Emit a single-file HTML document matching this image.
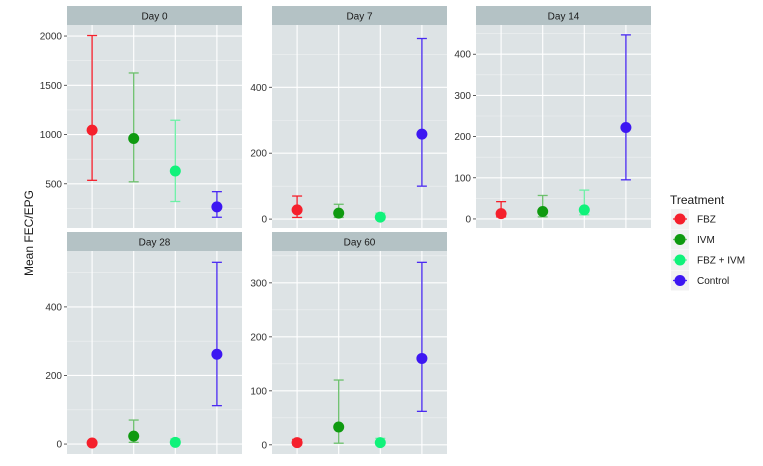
<!DOCTYPE html>
<html><head><meta charset="utf-8"><style>
body{margin:0;background:#fff;font-family:"Liberation Sans",Arial,sans-serif}
svg text{font-family:"Liberation Sans",Arial,sans-serif}
</style></head><body>
<svg id="c" width="763" height="461" viewBox="0 0 763 461"></svg>
<script>
const categories=["FBZ","IVM","FBZ + IVM","Control"];
const colors=["#f5202c","#0f9a10","#10f27a","#3d17f2"];
const barColors=["#f5202c","#6cc06c","#6cf0a6","#4a2af2"];
const panelTitles=["Day 0","Day 7","Day 14","Day 28","Day 60"];
const meanDay0=[1045,960,630,265],loDay0=[535,520,320,160],hiDay0=[2005,1625,1145,420];
const meanDay7=[28,18,6,258],loDay7=[5,5,0,100],hiDay7=[70,45,18,548];
const meanDay14=[13,18,22,222],loDay14=[5,5,10,95],hiDay14=[42,57,70,447];
const meanDay28=[3,23,5,262],loDay28=[0,5,0,112],hiDay28=[8,70,15,530];
const meanDay60=[4,33,4,160],loDay60=[0,3,0,62],hiDay60=[10,120,12,338];
const ticks0=[500,1000,1500,2000],ticks7=[0,200,400],ticks14=[0,100,200,300,400],ticks28=[0,200,400],ticks60=[0,100,200,300];
const panels=[
 {x:67,top:6,mean:meanDay0,lo:loDay0,hi:hiDay0,ticks:ticks0,dmin:51,dmax:2112},
 {x:272,top:6,mean:meanDay7,lo:loDay7,hi:hiDay7,ticks:ticks7,dmin:-27,dmax:589},
 {x:476,top:6,mean:meanDay14,lo:loDay14,hi:hiDay14,ticks:ticks14,dmin:-22,dmax:471},
 {x:67,top:232,mean:meanDay28,lo:loDay28,hi:hiDay28,ticks:ticks28,dmin:-29,dmax:563},
 {x:272,top:232,mean:meanDay60,lo:loDay60,hi:hiDay60,ticks:ticks60,dmin:-17,dmax:359}
];
const NS="http://www.w3.org/2000/svg",svg=document.getElementById('c');
function mk(t,a,p){const e=document.createElementNS(NS,t);for(const k in a)e.setAttribute(k,a[k]);(p||svg).appendChild(e);return e;}
const W=175,SH=19,PH=203;
panels.forEach((p,i)=>{
 const g=mk('g',{});
 
 
 const py=p.top+SH;
 const y=v=>py+PH-(v-p.dmin)/(p.dmax-p.dmin)*PH;
 const xs=k=>p.x+W/2+(k-1.5)*41.6;
 const strip=mk('rect',{x:p.x,y:p.top,width:W,height:SH,fill:'#b4c2c5'},g);
 
 const st=mk('text',{x:p.x+W/2,y:p.top+13.5,'text-anchor':'middle','font-size':'10',fill:'#1a1a1a'},g);st.textContent=panelTitles[i];
 
 mk('rect',{x:p.x,y:py,width:W,height:PH,fill:'#dde3e5'},g);
 const step=p.ticks[1]-p.ticks[0];
 for(let v=p.ticks[0]-step/2;v<=p.dmax;v+=step){if(v>p.dmin)mk('line',{x1:p.x,x2:p.x+W,y1:y(v),y2:y(v),stroke:'#eef1f2','stroke-width':0.6},g);}
 p.ticks.forEach(v=>{
  mk('line',{x1:p.x,x2:p.x+W,y1:y(v),y2:y(v),stroke:'#fff','stroke-width':1.1},g);
  mk('line',{x1:p.x-3,x2:p.x,y1:y(v),y2:y(v),stroke:'#333','stroke-width':0.8},g);
  const t=mk('text',{x:p.x-5,y:y(v)+3.5,'text-anchor':'end','font-size':'10',fill:'#333'},g);t.textContent=v;
  
 });
 categories.forEach((c,k)=>mk('line',{x1:xs(k),x2:xs(k),y1:py,y2:py+PH,stroke:'#fff','stroke-width':1.1},g));
 categories.forEach((c,k)=>{
  const x=xs(k),c2=barColors[k];
  const eb=mk('g',{},g);
  
  mk('line',{x1:x,x2:x,y1:y(p.lo[k]),y2:y(p.hi[k]),stroke:c2,'stroke-width':1.3},eb);
  mk('line',{x1:x-5,x2:x+5,y1:y(p.lo[k]),y2:y(p.lo[k]),stroke:c2,'stroke-width':1.3},eb);
  mk('line',{x1:x-5,x2:x+5,y1:y(p.hi[k]),y2:y(p.hi[k]),stroke:c2,'stroke-width':1.3},eb);
  const pt=mk('circle',{cx:x,cy:y(p.mean[k]),r:5.5,fill:colors[k]},g);
  
 });
});
const yt=mk('text',{x:33,y:233,'text-anchor':'middle','font-size':'12',fill:'#1a1a1a',transform:'rotate(-90 33 233)'});yt.textContent='Mean FEC/EPG';

const lg=mk('g',{});
const lt=mk('text',{x:670,y:204,'font-size':'12',fill:'#1a1a1a'},lg);lt.textContent='Treatment';
categories.forEach((c,k)=>{
 const yy=219+k*20.5;
 const e=mk('g',{},lg);
 mk('rect',{x:671,y:yy-10,width:18,height:20,fill:'#f2f2f2'},e);
 mk('line',{x1:673,x2:687,y1:yy,y2:yy,stroke:barColors[k],'stroke-width':1.3},e);
 mk('circle',{cx:680,cy:yy,r:5.5,fill:colors[k]},e);
 const t=mk('text',{x:697,y:yy+3.5,'font-size':'10',fill:'#1a1a1a'},e);t.textContent=c;
});
</script>
</body></html>
